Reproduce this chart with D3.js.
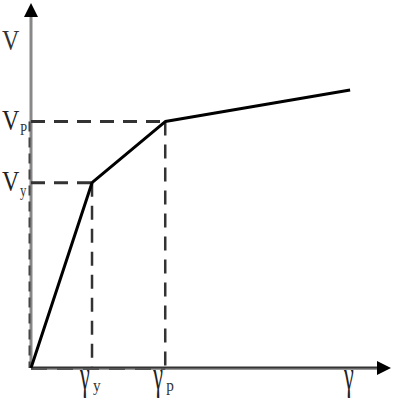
<!DOCTYPE html>
<html><head><meta charset="utf-8">
<script src="https://cdn.jsdelivr.net/npm/d3@7"></script>
<style>html,body{margin:0;padding:0;background:#fff;}svg{display:block;}</style>
</head><body>
<script>
// Data (strain gamma, shear V)
const curveGamma = [0, 1.0, 2.2, 5.23];
const curveV     = [0, 1.0, 1.33, 1.5];
const markGamma  = [1.0, 2.2];          // gamma_y, gamma_p
const markV      = [1.0, 1.33];         // V_y, V_p
const xTickLabels = [["γ","y"],["γ","p"]];
const yTickLabels = [["V","y"],["V","P"]];
const xAxisLabel = "γ", xAxisLabelGamma = 5.23;
const yAxisLabel = "V";

const W = 400, H = 400;
const x = d3.scaleLinear().domain([0, 5.9]).range([31, 391]);
const y = d3.scaleLinear().domain([0, 1.97]).range([368, 3]);

const svg = d3.select("body").append("svg").attr("width", W).attr("height", H);
const font = "'Liberation Serif','DejaVu Serif',serif";

// axes
svg.append("line").attr("x1", x(0)).attr("x2", x.range()[1] - 12).attr("y1", y(0)+1).attr("y2", y(0)+1)
  .attr("stroke", "#999").attr("stroke-width", 2);
svg.append("line").attr("x1", x(0)).attr("x2", x.range()[1] - 12).attr("y1", y(0)-0.5).attr("y2", y(0)-0.5)
  .attr("stroke", "#333").attr("stroke-width", 2);
svg.append("line").attr("x1", x(0)).attr("x2", x(0)).attr("y1", y(0)).attr("y2", y.range()[1] + 12)
  .attr("stroke", "#888").attr("stroke-width", 3);
// arrowheads
const xe = x.range()[1], ye = y.range()[1];
svg.append("path").attr("d", `M${xe},${y(0)} L${xe-14},${y(0)-7} L${xe-14},${y(0)+7} Z`).attr("fill", "#000");
svg.append("path").attr("d", `M${x(0)},${ye} L${x(0)-7},${ye+14} L${x(0)+7},${ye+14} Z`).attr("fill", "#000");

// dashed guides
const dash = "14,9";
markGamma.forEach((g, i) => {
  const v = markV[i];
  svg.append("line").attr("x1", x(0)).attr("x2", x(g)).attr("y1", y(v)).attr("y2", y(v))
    .attr("stroke", "#333").attr("stroke-width", 3).attr("stroke-dasharray", dash);
  svg.append("line").attr("x1", x(g)).attr("x2", x(g)).attr("y1", y(v)).attr("y2", y(0))
    .attr("stroke", "#333").attr("stroke-width", 2.5).attr("stroke-dasharray", dash);
});
// dashed overlays on axes
svg.append("line").attr("x1", x(0)-1.5).attr("x2", x(0)-1.5).attr("y1", y(markV[1])).attr("y2", y(0))
  .attr("stroke", "#444").attr("stroke-width", 2).attr("stroke-dasharray", "10,6");
svg.append("line").attr("x1", x(0)).attr("x2", x(markGamma[1])).attr("y1", y(0)+1).attr("y2", y(0)+1)
  .attr("stroke", "#555").attr("stroke-width", 2).attr("stroke-dasharray", "16,10");

// curve
const line = d3.line().x(d => x(d[0])).y(d => y(d[1]));
svg.append("path").datum(curveGamma.map((g, i) => [g, curveV[i]]))
  .attr("d", line).attr("fill", "none").attr("stroke", "#000").attr("stroke-width", 3)
  .attr("stroke-linejoin", "round");

// labels
function glyph(xp, yp, txt, size, sx, color) {
  svg.append("text").attr("transform", `translate(${xp},${yp}) scale(${sx},1)`)
    .attr("font-family", font).attr("font-size", size).attr("fill", color || "#222").text(txt);
}
// V labels
markV.forEach((v, i) => {
  glyph(2, y(v) + 8, yTickLabels[i][0], 30, 0.8);
  glyph(20, y(v) + 13, yTickLabels[i][1], 16, 0.8, "#333");
});
glyph(2, 50, yAxisLabel, 30, 0.8, "#333");
// gamma labels
markGamma.forEach((g, i) => {
  glyph(x(g) - 12, 389, xTickLabels[i][0], 40, 0.55);
  glyph(x(g) + 1, 391, xTickLabels[i][1], 17, 0.9, "#333");
});
glyph(x(xAxisLabelGamma) - 6, 389, xAxisLabel, 40, 0.55);
</script>
</body></html>
